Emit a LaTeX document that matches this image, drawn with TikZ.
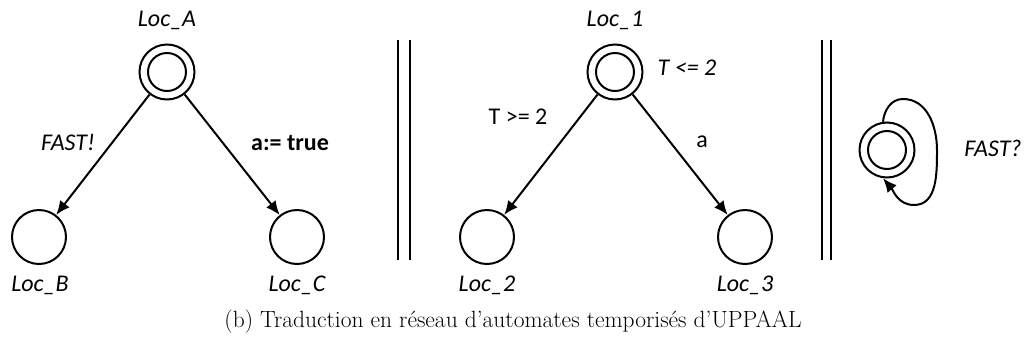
\documentclass[tikz,border=0pt]{standalone}
\usepackage{fontspec}
\newfontfamily\carlitofont{Carlito}
\usetikzlibrary{arrows.meta}
\begin{document}
\begin{tikzpicture}[x=0.75pt,y=-0.75pt,
  loc/.style={circle,draw,line width=1.5pt,minimum size=40.5pt,inner sep=0pt},
  initloc/.style={circle,draw,line width=1.5pt,minimum size=41.25pt,inner sep=0pt,
    path picture={\draw[line width=1.5pt] (path picture bounding box.center) circle (14.25pt);}},
  lbl/.style={font=\carlitofont\fontsize{18}{21}\selectfont\itshape,inner sep=0pt},
  elbl/.style={font=\carlitofont\fontsize{18}{21}\selectfont,inner sep=0pt},
  edge/.style={line width=1.5pt,-{Latex[length=10.5pt,width=9pt]}},
  sep/.style={line width=1.5pt}]
\useasboundingbox (0,0) rectangle (1026,347);
% part 1
\node[initloc] (A) at (167,72) {};
\node[loc] (B) at (39,237) {};
\node[loc] (C) at (297,237) {};
\node[lbl] (lA) at (167,20) {Loc\_A};
\node[lbl] (lB) at (40,285) {Loc\_B};
\node[lbl] (lC) at (297,285) {Loc\_C};
\draw[edge] (A) -- (B);
\draw[edge] (A) -- (C);
\node[lbl] (fast) at (68,142) {FAST!};
\node[elbl,font=\carlitofont\fontsize{18}{21}\selectfont\bfseries] (assign) at (290,143) {a:= true};
% separator 1
\coordinate (s1t) at (398,40); \coordinate (s1b) at (398,260);
\coordinate (s2t) at (410,40); \coordinate (s2b) at (410,260);
\draw[sep] (s1t) -- (s1b);
\draw[sep] (s2t) -- (s2b);
% part 2
\node[initloc] (L1) at (615,72) {};
\node[loc] (L2) at (487,237) {};
\node[loc] (L3) at (745,237) {};
\node[lbl] (l1) at (615,20) {Loc\_1};
\node[lbl] (l2) at (487,285) {Loc\_2};
\node[lbl] (l3) at (745,285) {Loc\_3};
\node[lbl] (inv) at (687,68) {T <= 2};
\draw[edge] (L1) -- (L2);
\draw[edge] (L1) -- (L3);
\node[elbl] (guard) at (518,117) {T >= 2};
\node[elbl] (sync) at (702,142) {a};
% separator 2
\coordinate (s3t) at (822,40); \coordinate (s3b) at (822,260);
\coordinate (s4t) at (831,40); \coordinate (s4b) at (831,260);
\draw[sep] (s3t) -- (s3b);
\draw[sep] (s4t) -- (s4b);
% part 3
\node[initloc] (L) at (887,150) {};
\coordinate (loopT) at (903,99);
\coordinate (loopR) at (937,150);
\coordinate (loopB) at (914,205);
\draw[edge] (L.98) to[out=85,in=180] (loopT) to[out=0,in=90] (loopR) to[out=-90,in=0] (loopB) to[out=180,in=-50] (L.262);
\node[lbl] (fast2) at (993,148) {FAST?};
% caption
\node[font=\fontsize{17.6}{20}\selectfont,inner sep=0pt] (cap) at (513,322) {(b) Traduction en réseau d’automates temporisés d’UPPAAL};
\end{tikzpicture}
\end{document}
